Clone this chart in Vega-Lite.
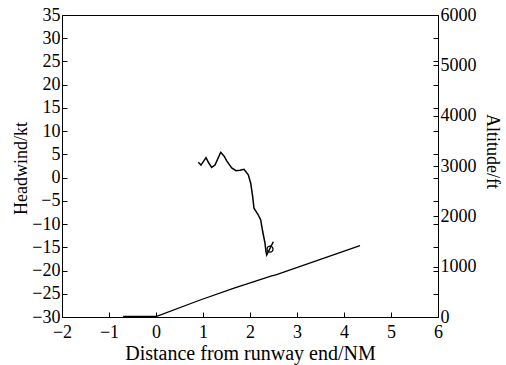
{
  "$schema": "https://vega.github.io/schema/vega-lite/v6.json",
  "width": 376,
  "height": 302,
  "autosize": {"type": "none"},
  "padding": {"left": 62, "top": 15, "right": 68, "bottom": 48},
  "background": "white",
  "config": {
    "view": {"stroke": "black", "strokeWidth": 1},
    "axis": {
      "labelFont": "Liberation Serif",
      "titleFont": "Liberation Serif",
      "labelFontSize": 18,
      "titleFontSize": 18,
      "titleFontWeight": "normal",
      "labelColor": "black",
      "titleColor": "black",
      "domainColor": "black",
      "tickColor": "black",
      "grid": false,
      "tickSize": -5,
      "labelFlush": false,
      "labelOverlap": false
    }
  },
  "encoding": {
    "x": {
      "field": "d",
      "type": "quantitative",
      "scale": {"domain": [-2, 6], "nice": false, "zero": false},
      "axis": {
        "values": [-2, -1, 0, 1, 2, 3, 4, 5, 6],
        "title": "Distance from runway end/NM",
        "labelPadding": 11,
        "titlePadding": 2,
        "titleFontSize": 20
      }
    }
  },
  "layer": [
    {
      "data": {
        "values": [
          {"i": 1, "d": 0.900, "hw": 3.3},
          {"i": 2, "d": 0.957, "hw": 2.7},
          {"i": 3, "d": 1.064, "hw": 4.3},
          {"i": 4, "d": 1.120, "hw": 3.2},
          {"i": 5, "d": 1.185, "hw": 2.2},
          {"i": 6, "d": 1.255, "hw": 2.7},
          {"i": 7, "d": 1.377, "hw": 5.45},
          {"i": 8, "d": 1.450, "hw": 4.6},
          {"i": 9, "d": 1.504, "hw": 3.6},
          {"i": 10, "d": 1.611, "hw": 2.1},
          {"i": 11, "d": 1.702, "hw": 1.5},
          {"i": 12, "d": 1.787, "hw": 1.6},
          {"i": 13, "d": 1.872, "hw": 1.8},
          {"i": 14, "d": 1.964, "hw": 0.6},
          {"i": 15, "d": 2.015, "hw": -1.2},
          {"i": 16, "d": 2.057, "hw": -4.1},
          {"i": 17, "d": 2.085, "hw": -6.6},
          {"i": 18, "d": 2.177, "hw": -8.05},
          {"i": 19, "d": 2.228, "hw": -9.1},
          {"i": 20, "d": 2.270, "hw": -11.6},
          {"i": 21, "d": 2.319, "hw": -14.1},
          {"i": 22, "d": 2.340, "hw": -15.95},
          {"i": 23, "d": 2.355, "hw": -16.66},
          {"i": 24, "d": 2.496, "hw": -13.8}
        ]
      },
      "mark": {"type": "line", "color": "black", "strokeWidth": 1.5},
      "encoding": {
        "order": {"field": "i", "type": "quantitative"},
        "y": {
          "field": "hw",
          "type": "quantitative",
          "scale": {"domain": [-30, 35], "nice": false, "zero": false},
          "axis": {
            "orient": "left",
            "values": [-30, -25, -20, -15, -10, -5, 0, 5, 10, 15, 20, 25, 30, 35],
            "title": "Headwind/kt",
            "labelPadding": 7,
            "titlePadding": 1,
            "titleY": 153
          }
        }
      }
    },
    {
      "data": {"values": [{"d": 2.426, "hw": -15.4}]},
      "mark": {"type": "point", "shape": "circle", "filled": false, "color": "black", "size": 36, "strokeWidth": 1.2, "opacity": 1},
      "encoding": {
        "y": {
          "field": "hw",
          "type": "quantitative",
          "scale": {"domain": [-30, 35], "nice": false, "zero": false},
          "axis": {
            "orient": "right",
            "values": [-30, -25, -20, -15, -10, -5, 0, 5, 10, 15, 20, 25, 30, 35],
            "labels": false,
            "domain": false,
            "title": null
          }
        }
      }
    },
    {
      "data": {
        "values": [
          {"d": -0.70, "alt": 10},
          {"d": 0.0, "alt": 10},
          {"d": 0.94, "alt": 338},
          {"d": 1.645, "alt": 570},
          {"d": 2.46, "alt": 815},
          {"d": 2.55, "alt": 835},
          {"d": 4.34, "alt": 1417}
        ]
      },
      "mark": {"type": "line", "color": "black", "strokeWidth": 1.3},
      "encoding": {
        "y": {
          "field": "alt",
          "type": "quantitative",
          "scale": {"domain": [0, 6000], "nice": false, "zero": false},
          "axis": {
            "orient": "right",
            "values": [0, 1000, 2000, 3000, 4000, 5000, 6000],
            "format": "d",
            "title": "Altitude/ft",
            "labelPadding": 7,
            "titlePadding": 6,
            "titleY": 136
          }
        }
      }
    }
  ],
  "resolve": {"scale": {"y": "independent"}, "axis": {"y": "independent"}}
}
